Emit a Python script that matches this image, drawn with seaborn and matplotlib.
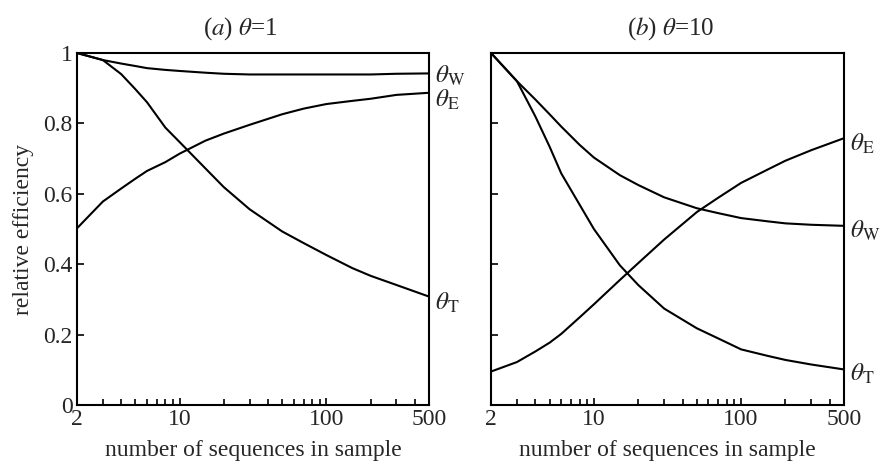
import matplotlib
matplotlib.use("Agg")
import matplotlib.pyplot as plt
import matplotlib.ticker as mticker
import seaborn as sns
import pandas as pd

# ---- data ----
n_vals = [2, 3, 4, 5, 6, 8, 10, 15, 20, 30, 50, 70, 100, 150, 200, 300, 500]

# panel (a) theta = 1
a_w = [1.0, 0.980, 0.970, 0.963, 0.957, 0.952, 0.949, 0.944, 0.941, 0.939, 0.939,
       0.939, 0.939, 0.939, 0.939, 0.941, 0.942]
a_e = [0.502, 0.578, 0.615, 0.643, 0.665, 0.690, 0.714, 0.751, 0.771, 0.796, 0.826,
       0.842, 0.855, 0.864, 0.870, 0.881, 0.887]
a_t = [1.0, 0.980, 0.940, 0.897, 0.860, 0.788, 0.747, 0.672, 0.619, 0.556, 0.493,
       0.460, 0.426, 0.389, 0.367, 0.341, 0.308]

# panel (b) theta = 10
b_w = [1.0, 0.920, 0.868, 0.826, 0.791, 0.739, 0.703, 0.653, 0.625, 0.590, 0.559,
       0.545, 0.531, 0.522, 0.516, 0.512, 0.509]
b_e = [0.095, 0.122, 0.152, 0.177, 0.202, 0.249, 0.286, 0.355, 0.403, 0.470, 0.548,
       0.589, 0.631, 0.668, 0.694, 0.724, 0.758]
b_t = [1.0, 0.920, 0.820, 0.734, 0.658, 0.569, 0.500, 0.397, 0.341, 0.274, 0.218,
       0.189, 0.158, 0.140, 0.128, 0.115, 0.101]

x_ticks = [2, 10, 100, 500]
x_tick_labels = ["2", "10", "100", "500"]
y_ticks = [0, 0.2, 0.4, 0.6, 0.8, 1.0]
y_tick_labels = ["0", "0.2", "0.4", "0.6", "0.8", "1"]

titles = [r"($\it{a}$) $\theta$=1", r"($\it{b}$) $\theta$=10"]
xlabel = "number of sequences in sample"
ylabel = "relative efficiency"


def frame(vs, name):
    return pd.DataFrame({"n": n_vals, "eff": vs, "est": name})


df_a = pd.concat([frame(a_w, "W"), frame(a_e, "E"), frame(a_t, "T")])
df_b = pd.concat([frame(b_w, "W"), frame(b_e, "E"), frame(b_t, "T")])

sns.set_style("ticks")
plt.rcParams["font.family"] = ["Liberation Serif", "DejaVu Serif"]
plt.rcParams["mathtext.fontset"] = "stix"
FS = 17

fig = plt.figure(figsize=(8.8, 4.65), dpi=100)
ax_a = fig.add_axes([77 / 880, 60 / 465, 352 / 880, 352 / 465])
ax_b = fig.add_axes([491 / 880, 60 / 465, 353 / 880, 352 / 465])

label_pos = {
    0: {"W": 0.935, "E": 0.866, "T": 0.29},
    1: {"W": 0.495, "E": 0.742, "T": 0.088},
}
title_x = [0.465, 0.51]

for i, (ax, df) in enumerate([(ax_a, df_a), (ax_b, df_b)]):
    sns.lineplot(data=df, x="n", y="eff", units="est", estimator=None,
                 color="black", lw=1.5, ax=ax, legend=False)
    ax.set_xscale("log")
    ax.set_xlim(2, 500)
    ax.set_ylim(0, 1)
    ax.xaxis.set_major_locator(mticker.FixedLocator(x_ticks))
    ax.xaxis.set_major_formatter(mticker.FixedFormatter(x_tick_labels))
    ax.xaxis.set_minor_locator(mticker.LogLocator(base=10, subs=range(2, 10), numticks=20))
    ax.xaxis.set_minor_formatter(mticker.NullFormatter())
    ax.set_yticks(y_ticks)
    if i == 0:
        ax.set_yticklabels(y_tick_labels)
        ax.set_ylabel(ylabel, fontsize=FS, labelpad=7)
    else:
        ax.set_yticklabels([])
        ax.set_ylabel("")
    ax.tick_params(axis="both", which="both", direction="in", labelsize=FS,
                   width=1.2, color="black")
    ax.tick_params(axis="both", which="major", length=5, pad=3)
    ax.tick_params(axis="x", which="minor", length=4)
    ax.tick_params(axis="y", which="minor", length=0)
    ax.set_xlabel(xlabel, fontsize=FS, labelpad=7)
    ax.set_title(titles[i], fontsize=FS + 1, pad=13, x=title_x[i])
    for s in ax.spines.values():
        s.set_linewidth(1.5)
        s.set_color("black")
    for k, yv in label_pos[i].items():
        ax.text(1.018, yv, r"$\theta_{\rm %s}$" % k, transform=ax.transAxes,
                fontsize=FS + 1, va="center", ha="left")

fig.savefig("out.png", dpi=100)
